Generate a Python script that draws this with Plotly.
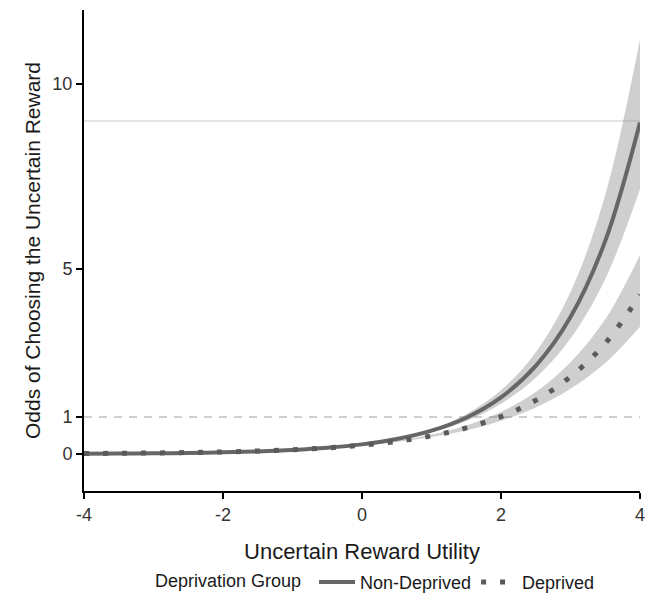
import plotly.graph_objects as go

# Uncertain reward utility (x)
utility = [-4, -3.5, -3, -2.5, -2, -1.5, -1, -0.5, 0, 0.5, 1, 1.5, 2, 2.5, 3, 3.5, 4]

# Non-Deprived group: odds and confidence band
nondep_odds = [0.0075, 0.0117, 0.0183, 0.0284, 0.0443, 0.0689, 0.107, 0.167, 0.260,
               0.405, 0.630, 0.981, 1.53, 2.38, 3.70, 5.76, 8.96]
nondep_upper = [0.0094, 0.0142, 0.0217, 0.0328, 0.0498, 0.0755, 0.1145, 0.175, 0.271,
                0.425, 0.674, 1.075, 1.72, 2.75, 4.38, 7.01, 11.21]
nondep_lower = [0.0060, 0.0096, 0.0154, 0.0246, 0.0394, 0.0629, 0.100, 0.159, 0.250,
                0.386, 0.589, 0.895, 1.36, 2.06, 3.12, 4.73, 7.16]

# Deprived group: odds and confidence band
dep_odds = [0.0131, 0.0189, 0.0271, 0.0389, 0.0559, 0.0802, 0.115, 0.165, 0.238,
            0.341, 0.490, 0.704, 1.01, 1.45, 2.09, 2.99, 4.30]
dep_upper = [0.0164, 0.0230, 0.0321, 0.0449, 0.0628, 0.0879, 0.123, 0.173, 0.248,
             0.358, 0.524, 0.772, 1.135, 1.673, 2.477, 3.64, 5.38]
dep_lower = [0.0105, 0.0155, 0.0229, 0.0337, 0.0497, 0.0732, 0.107, 0.157, 0.229,
             0.325, 0.458, 0.642, 0.899, 1.256, 1.764, 2.46, 3.44]

x_ticks = [-4, -2, 0, 2, 4]
y_ticks = [0, 1, 5, 10]
ref_dashed = 1
ref_solid = 9

band_fill = "rgba(128,128,128,0.38)"
line_col = "#666666"
font_family = "Liberation Sans, Arial, sans-serif"

fig = go.Figure()

for lo, hi in [(nondep_lower, nondep_upper), (dep_lower, dep_upper)]:
    fig.add_trace(go.Scatter(x=utility, y=hi, mode="lines", line=dict(width=0, shape="spline"),
                             showlegend=False, hoverinfo="skip"))
    fig.add_trace(go.Scatter(x=utility, y=lo, mode="lines", line=dict(width=0, shape="spline"),
                             fill="tonexty", fillcolor=band_fill, showlegend=False, hoverinfo="skip"))

fig.add_trace(go.Scatter(x=utility, y=nondep_odds, mode="lines", name="Non-Deprived",
                         line=dict(color=line_col, width=4, shape="spline")))
fig.add_trace(go.Scatter(x=utility, y=dep_odds, mode="lines", name="Deprived",
                         line=dict(color="#5a5a5a", width=5, shape="spline", dash="5px,14px")))

fig.add_shape(type="line", xref="paper", x0=0, x1=1, yref="y", y0=ref_dashed, y1=ref_dashed,
              line=dict(color="#c0c0c0", width=1.5, dash="8px,7px"), layer="below")
fig.add_shape(type="line", xref="paper", x0=0, x1=1, yref="y", y0=ref_solid, y1=ref_solid,
              line=dict(color="#dcdcdc", width=1.5), layer="below")

fig.update_layout(
    width=646, height=592,
    margin=dict(l=76, r=14, t=2, b=109, autoexpand=False),
    plot_bgcolor="white", paper_bgcolor="white",
    font=dict(family=font_family, color="#1a1a1a", size=18),
    legend=dict(orientation="h", x=0.124, xanchor="left", y=-0.19, yanchor="middle",
                traceorder="normal",
                title=dict(text="Deprivation Group ", font=dict(size=18)),
                font=dict(size=18), itemwidth=36, bgcolor="rgba(0,0,0,0)"),
    xaxis=dict(range=[-4, 4], tickvals=x_ticks, ticktext=[str(v) for v in x_ticks],
               automargin=False,
               showgrid=False, zeroline=False, showline=True, linecolor="black", linewidth=2,
               ticks="outside", ticklen=6, tickwidth=2, tickcolor="black",
               tickfont=dict(size=18, color="#333333"),
               title=dict(text="Uncertain Reward Utility", font=dict(size=22, color="#1a1a1a"), standoff=20)),
    yaxis=dict(range=[-1, 12], tickvals=y_ticks, ticktext=[str(v) for v in y_ticks],
               automargin=False,
               showgrid=False, zeroline=False, showline=True, linecolor="black", linewidth=2,
               ticks="outside", ticklen=6, tickwidth=2, tickcolor="black",
               tickfont=dict(size=18, color="#333333"),
               title=dict(text="Odds of Choosing the Uncertain Reward", font=dict(size=21, color="#1a1a1a"), standoff=6)),
)

fig.write_html("out.html")
